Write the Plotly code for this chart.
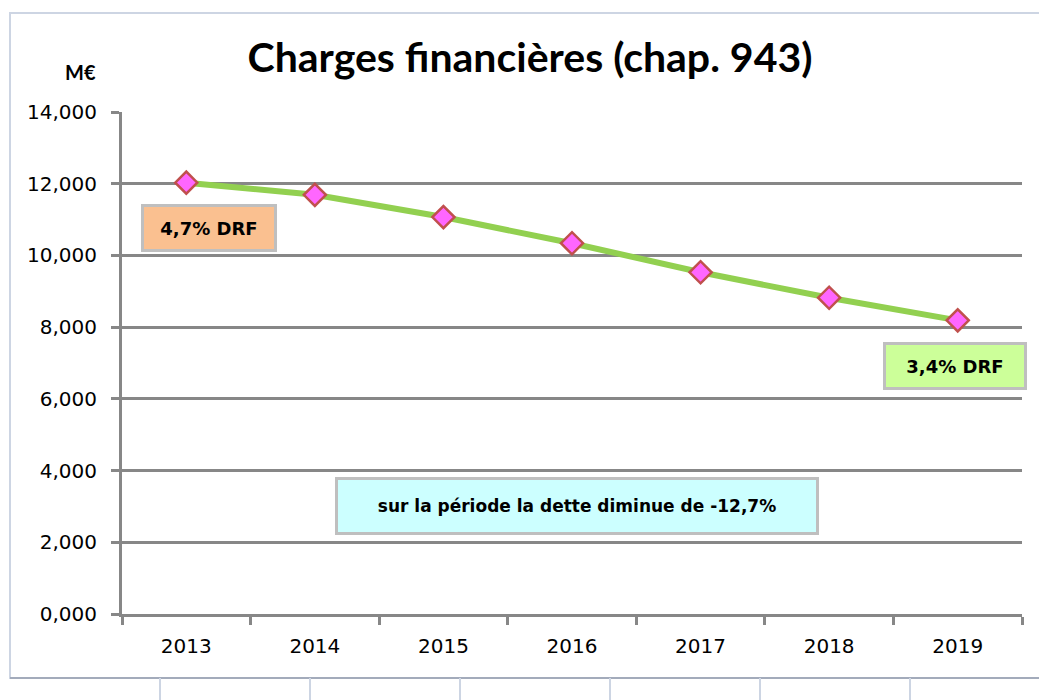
import plotly.graph_objects as go

years = ["2013", "2014", "2015", "2016", "2017", "2018", "2019"]
charges = [12.03, 11.69, 11.07, 10.34, 9.53, 8.82, 8.19]
y_ticks = [0, 2, 4, 6, 8, 10, 12, 14]
y_tick_labels = ["0,000", "2,000", "4,000", "6,000", "8,000", "10,000", "12,000", "14,000"]

grid_gray = "#878787"
frame_color = "#CDD5E3"

# page body adds an 8px offset, margins are compensated for it
L, T, W, H = 114, 104, 900, 502


def px(x):
    return (x - 8 - L) / W


def py(y):
    return (T + H - (y - 8)) / H


fig = go.Figure()

fig.add_trace(go.Scatter(
    x=years,
    y=charges,
    mode="lines+markers",
    line=dict(color="#92D050", width=6),
    marker=dict(symbol="diamond", size=17, color="#FF66FF",
                line=dict(color="#C0504D", width=2.5)),
    showlegend=False
))

fig.update_layout(
    width=1047,
    height=700,
    margin=dict(l=L, r=1047 - L - W, t=T, b=700 - T - H),
    paper_bgcolor="white",
    plot_bgcolor="white",
    font=dict(family="Lato, Open Sans, sans-serif", color="black"),
    title=dict(
        text="<b>Charges financières (chap. 943)</b>",
        x=px(530), xanchor="center", xref="paper",
        y=1 - (58 - 8) / 700, yanchor="middle",
        font=dict(size=41, family="Lato, Open Sans, sans-serif", color="black")
    ),
    xaxis=dict(
        type="category",
        range=[-0.5, 6.5],
        showgrid=False,
        showline=True, linecolor=grid_gray, linewidth=3,
        ticks="outside", ticklen=8, tickwidth=3, tickcolor=grid_gray,
        tickson="boundaries",
        ticklabelstandoff=12,
        tickfont=dict(size=20, family="DejaVu Sans, sans-serif"),
        fixedrange=True
    ),
    yaxis=dict(
        range=[0, 14],
        tickvals=y_ticks,
        ticktext=y_tick_labels,
        showgrid=True, gridcolor=grid_gray, gridwidth=3,
        showline=True, linecolor=grid_gray, linewidth=3,
        ticks="outside", ticklen=8, tickwidth=3, tickcolor=grid_gray,
        ticklabelstandoff=10,
        tickfont=dict(size=20, family="DejaVu Sans, sans-serif"),
        zeroline=False,
        fixedrange=True
    )
)

# outer chart frame and bits of the surrounding table
fig.add_shape(type="rect", xref="paper", yref="paper",
              x0=px(10), x1=1.06, y0=py(678), y1=py(13),
              line=dict(color=frame_color, width=2), layer="below")
fig.add_shape(type="line", xref="paper", yref="paper",
              x0=px(10), x1=1.06, y0=py(678), y1=py(678),
              line=dict(color="#A3ABBB", width=2))
for xp in [160, 310, 460, 610, 760, 910]:
    fig.add_shape(type="line", xref="paper", yref="paper",
                  x0=px(xp), x1=px(xp), y0=py(678), y1=py(712),
                  line=dict(color=frame_color, width=2))

fig.add_annotation(
    text="<b>M€</b>", xref="paper", yref="paper",
    x=px(80), y=py(72), xanchor="center", yanchor="middle", showarrow=False,
    font=dict(size=20, family="Lato, Open Sans, sans-serif")
)

box_font = dict(size=18, family="DejaVu Sans, sans-serif", color="black")

fig.add_annotation(
    text="<b>4,7% DRF</b>", xref="paper", yref="paper",
    x=px(209), y=py(228), xanchor="center", yanchor="middle", showarrow=False,
    width=128, height=40, bgcolor="#FAC090", bordercolor="#BFBFBF",
    borderwidth=3, font=box_font
)
fig.add_annotation(
    text="<b>3,4% DRF</b>", xref="paper", yref="paper",
    x=px(955), y=py(366), xanchor="center", yanchor="middle", showarrow=False,
    width=136, height=40, bgcolor="#CCFF99", bordercolor="#BFBFBF",
    borderwidth=3, font=box_font
)
fig.add_annotation(
    text="<b>sur la période la dette diminue de -12,7%</b>", xref="paper", yref="paper",
    x=px(577), y=py(506), xanchor="center", yanchor="middle", showarrow=False,
    width=476, height=50, bgcolor="#CCFFFF", bordercolor="#BFBFBF",
    borderwidth=3, font=dict(size=17, family="DejaVu Sans, sans-serif", color="black")
)

fig.write_html("out.html")
